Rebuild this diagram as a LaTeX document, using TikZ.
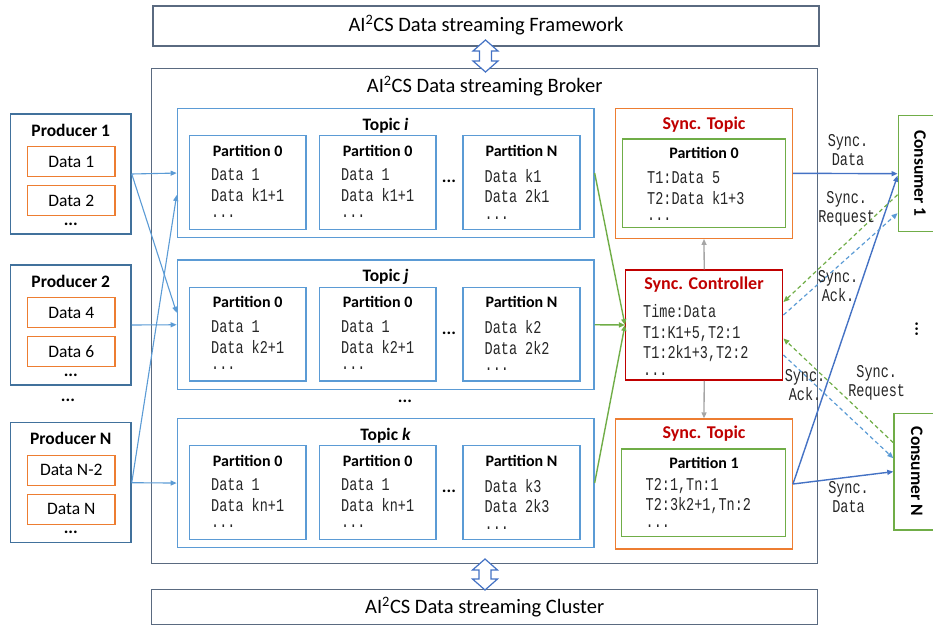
\documentclass[tikz,border=0pt]{standalone}
\usepackage{fontspec}
\setmainfont{Carlito}
\newfontfamily\monofont[FakeStretch=0.75]{Liberation Mono}
\usetikzlibrary{arrows.meta}

\definecolor{slate}{RGB}{90,106,128}
\definecolor{prodblue}{RGB}{65,113,156}
\definecolor{lblue}{RGB}{91,155,213}
\definecolor{dorange}{RGB}{237,125,49}
\definecolor{lgreen}{RGB}{112,173,71}
\definecolor{sred}{RGB}{192,0,0}
\definecolor{sblue}{RGB}{68,114,196}
\definecolor{lgray}{RGB}{165,165,165}

% box given by its corners (name, style, x1, y1, x2, y2, text)
\newcommand\boxnode[7]{%
	\node[#2, minimum width={(#5)-(#3)}, minimum height={(#6)-(#4)}]
		(#1) at ({((#3)+(#5))/2},{((#4)+(#6))/2}) {#7};}
% hollow up/down arrow between two layers (x, top tip, bottom tip)
\newcommand\linkarrow[3]{%
	\draw[line width=1.2pt, draw=sblue, fill=white]
		(#1,#2) -- ({#1+12.5},{#2+11}) -- ({#1+6},{#2+11}) -- ({#1+6},{#3-11})
		-- ({#1+12.5},{#3-11}) -- (#1,#3) -- ({#1-12.5},{#3-11}) -- ({#1-6},{#3-11})
		-- ({#1-6},{#2+11}) -- ({#1-12.5},{#2+11}) -- cycle;}
% trailing dots of a data list
\newcommand\moredots{\raisebox{4pt}{...}}

\begin{document}
\begin{tikzpicture}[x=1pt,y=-1pt,
	outerbox/.style={draw=slate, line width=1.4pt},
	prodbox/.style={draw=prodblue, line width=1.5pt},
	databox/.style={draw=dorange, line width=1.3pt, font=\fontsize{17.5}{20}\selectfont},
	topicbox/.style={draw=lblue, line width=1.3pt},
	partbox/.style={draw=lblue, line width=1.5pt},
	syncbox/.style={draw=dorange, line width=1.3pt},
	syncpart/.style={draw=lgreen, line width=1.5pt},
	ctrlbox/.style={draw=sred, line width=1.5pt},
	consbox/.style={draw=lgreen, line width=1.5pt},
	ttl/.style={font=\fontsize{20.5}{24}\selectfont},
	phead/.style={font=\bfseries\fontsize{17.5}{20}\selectfont},
	parthead/.style={font=\bfseries\fontsize{16}{19}\selectfont},
	synchead/.style={font=\bfseries\fontsize{18}{21}\selectfont, text=sred},
	mono/.style={font=\monofont\fontsize{18}{20.5}\selectfont, align=left, inner sep=0pt, text=black!85},
	lbl/.style={font=\monofont\fontsize{18}{19}\selectfont, align=center, inner sep=0pt, text=black!85},
	parrow/.style={draw=lblue, line width=1.1pt, -{Triangle[length=6pt,width=5pt]}},
	garrow/.style={draw=lgreen, line width=1.4pt, -{Triangle[length=6pt,width=5pt]}},
	grarrow/.style={draw=lgray, line width=1.3pt, -{Triangle[length=6pt,width=5pt]}},
	barrow/.style={draw=sblue, line width=1.4pt, -{Triangle[length=6pt,width=5pt]}},
	gdash/.style={draw=lgreen, line width=1.2pt, dash pattern=on 4pt off 3pt, -{Triangle[length=6pt,width=5pt]}},
	bdash/.style={draw=lblue, line width=1.2pt, dash pattern=on 4pt off 3pt, -{Triangle[length=6pt,width=5pt]}}]
	%%%%% START %%%%%
	\useasboundingbox (0,0) rectangle (933,626);

	% layers
	\boxnode{fw}{outerbox}{153}{6}{819}{46}{}
	\node[ttl] (fwtxt) at (486,25) {AI\textsuperscript{2}CS Data streaming Framework};
	\boxnode{broker}{outerbox}{151.7}{68.3}{817.7}{563.3}{}
	\node[ttl] (brtxt) at (484.7,86) {AI\textsuperscript{2}CS Data streaming Broker};
	\boxnode{cluster}{outerbox}{151.7}{589.3}{817.7}{624.5}{}
	\node[ttl] (cltxt) at (484.7,607) {AI\textsuperscript{2}CS Data streaming Cluster};

	% producers
	\foreach \pn/\py/\da/\db in {1/114/Data 1/Data 2, 2/265/Data 4/Data 6, N/422.7/Data N-2/Data N} {
		\boxnode{p\pn}{prodbox}{10.7}{\py}{131}{\py+120}{}
		\node[phead] (p\pn txt) at (70.8,{\py+16}) {Producer \pn};
		\boxnode{p\pn a}{databox}{27.5}{\py+32.5}{115}{\py+62.5}{\da}
		\boxnode{p\pn b}{databox}{27.5}{\py+71.5}{115}{\py+101.5}{\db}
		\node[phead] (p\pn dots) at (70.8,{\py+110}) {...};
	}
	\node[phead] (pdots) at (68,400) {...};

	% topics with their partitions
	\foreach \tn/\ty/\ka/\kb/\kc in {i/108.3/k1+1/k1/2k1, j/260/k2+1/k2/2k2, k/418.3/kn+1/k3/2k3} {
		\boxnode{t\tn}{topicbox}{177.3}{\ty}{594}{\ty+129.5}{}
		\node[phead] (t\tn txt) at (385.6,{\ty+17}) {Topic \textit{\tn}};
		\boxnode{t\tn a}{partbox}{189.5}{\ty+27.4}{306}{\ty+121}{}
		\boxnode{t\tn b}{partbox}{319.5}{\ty+27.4}{436}{\ty+121}{}
		\boxnode{t\tn c}{partbox}{463}{\ty+27.4}{580}{\ty+121}{}
		\node[parthead] (t\tn ah) at (247.7,{\ty+42.4}) {Partition 0};
		\node[parthead] (t\tn bh) at (377.7,{\ty+42.4}) {Partition 0};
		\node[parthead] (t\tn ch) at (521.5,{\ty+42.4}) {Partition N};
		\node[mono, anchor=north west] (t\tn at) at (211,{\ty+60.5}) {Data 1\\Data \ka\\\moredots};
		\node[mono, anchor=north west] (t\tn bt) at (341,{\ty+60.5}) {Data 1\\Data \ka\\\moredots};
		\node[mono, anchor=north west] (t\tn ct) at (484.5,{\ty+60.5}) {Data \kb\\Data \kc\\\moredots};
		\node[phead] (t\tn dots) at (449,{\ty+73}) {...};
	}
	\node[phead] (tdots) at (405,401) {...};

	% sync side
	\boxnode{st1}{syncbox}{615.7}{108.3}{792.3}{238.3}{}
	\node[synchead] (st1txt) at (704,125) {Sync. Topic};
	\boxnode{st1p}{syncpart}{622.3}{139}{785.7}{227.3}{}
	\node[parthead] (st1h) at (704,153.3) {Partition 0};
	\node[mono, anchor=north west] (st1t) at (647,171.5) {T1:Data 5\\T2:Data k1+3\\\moredots};

	\boxnode{ctrl}{ctrlbox}{625.7}{270}{782.7}{380}{}
	\node[synchead] (ctrltxt) at (704,285) {Sync. Controller};
	\node[mono, anchor=north west] (ctrlt) at (643,304.5) {Time:Data\\T1:K1+5,T2:1\\T1:2k1+3,T2:2\\\moredots};

	\boxnode{st2}{syncbox}{615.7}{419}{792.3}{549}{}
	\node[synchead] (st2txt) at (704,434) {Sync. Topic};
	\boxnode{st2p}{syncpart}{621.7}{449}{785.7}{536.7}{}
	\node[parthead] (st2h) at (704,463.3) {Partition 1};
	\node[mono, anchor=north west] (st2t) at (645.5,478) {T2:1,Tn:1\\T2:3k2+1,Tn:2\\\moredots};

	% consumers
	\boxnode{c1}{consbox}{898.3}{115.7}{945}{231.7}{}
	\node[phead, rotate=-90] (c1txt) at (920,173.5) {Consumer 1};
	\boxnode{cN}{consbox}{894}{413.3}{945}{530}{}
	\node[phead, rotate=-90] (cNtxt) at (916.7,471.5) {Consumer N};
	\node[phead, rotate=90] (cdots) at (916.7,329) {...};

	% layer links
	\linkarrow{485.5}{40}{72}
	\linkarrow{485}{559}{590}

	% producers -> topics
	\draw[parrow] (p1.east) -- (ti.west);
	\draw[parrow] (p1.east) -- ([yshift=12pt]tj.west);
	\draw[parrow] (p2.east) -- (tj.west);
	\draw[parrow] (pN.east) -- ([yshift=-22pt]ti.west);
	\draw[parrow] (pN.east) -- (tk.west);

	% topics -> controller -> sync topics
	\draw[garrow] (ti.east) -- (ctrl.west);
	\draw[garrow] (tj.east) -- (ctrl.west);
	\draw[garrow] (tk.east) -- (ctrl.west);
	\draw[grarrow] (ctrl.north) -- (st1.south);
	\draw[grarrow] (ctrl.south) -- (st2.north);

	% sync topics -> consumers
	\draw[barrow] (st1.east) -- (c1.west);
	\draw[barrow] (st2.east) -- ([yshift=-2pt]c1.west);
	\draw[barrow] (st2.east) -- (cN.west);
	\draw[gdash] ([yshift=-21pt]c1.west) -- ([yshift=23pt]ctrl.east);
	\draw[bdash] ([yshift=10pt]ctrl.east) -- ([yshift=-39.5pt]c1.west);
	\draw[gdash] ([yshift=29pt]cN.west) -- ([yshift=-13.5pt]ctrl.east);
	\draw[bdash] ([yshift=-30pt]ctrl.east) -- ([yshift=13.5pt]cN.west);

	\node[lbl] (l1) at (848,150) {Sync.\\Data};
	\node[lbl] (l2) at (846.7,209) {Sync.\\Request};
	\node[lbl] (l3) at (838,286.5) {Sync.\\Ack.};
	\node[lbl] (l4) at (805,385.5) {Sync.\\Ack.};
	\node[lbl] (l5) at (876.7,382.5) {Sync.\\Request};
	\node[lbl] (l6) at (848.5,497.5) {Sync.\\Data};
	%%%%% END %%%%%
\end{tikzpicture}
\end{document}
